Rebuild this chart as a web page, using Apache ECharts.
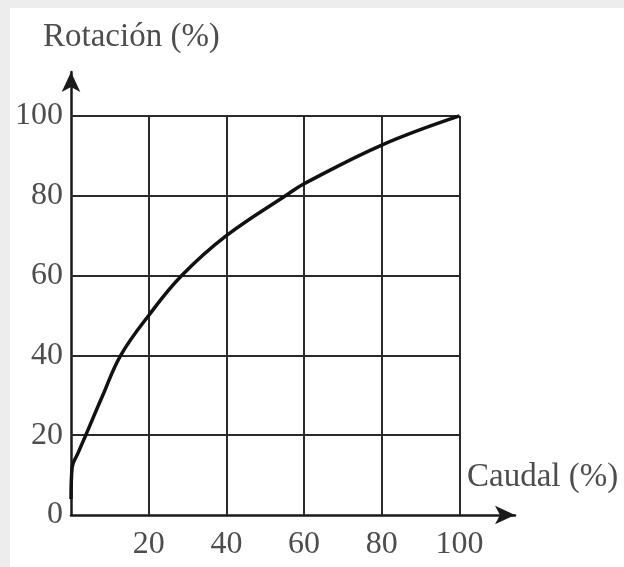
<!DOCTYPE html>
<html>
<head>
<meta charset="utf-8">
<script src="https://cdn.jsdelivr.net/npm/echarts@6/dist/echarts.min.js"></script>
<style>
html,body{margin:0;padding:0;background:#ededed;}
#chart{width:624px;height:567px;}
</style>
</head>
<body>
<div id="chart"></div>
<script>
// Data
const caudal   = [0, 0.3, 1.8, 3.8, 8.1, 12.8, 20, 28.5, 40, 56, 60, 80, 100];
const rotacion = [4, 12, 15.5, 20, 29.8, 40, 50, 60, 70, 80.5, 83, 92.7, 100];
const gridTicks = [20, 40, 60, 80, 100];
const xName = 'Caudal (%)';
const yName = 'Rotación (%)';

const font = '"Liberation Serif", "DejaVu Serif", serif';
const txtColor = '#4d4d4d';
const chart = echarts.init(document.getElementById('chart'));

const gridLines = [];
gridTicks.forEach(v => {
  gridLines.push([{coord: [v, 0]}, {coord: [v, 100]}]);
  gridLines.push([{coord: [0, v]}, {coord: [100, v]}]);
});

chart.setOption({
  backgroundColor: '#ededed',
  animation: false,
  graphic: [{
    type: 'rect', z: -10, silent: true,
    shape: {x: 10, y: 8, width: 620, height: 570},
    style: {fill: '#ffffff'}
  }],
  title: [
    {text: yName, left: 38, top: 16,
     textStyle: {fontFamily: font, fontSize: 33, fontWeight: 'normal', color: txtColor}},
    {text: xName, left: 462, top: 456,
     textStyle: {fontFamily: font, fontSize: 33, fontWeight: 'normal', color: txtColor}}
  ],
  grid: {left: 71, right: 109, top: 72, bottom: 52, containLabel: false},
  xAxis: {
    type: 'value', min: 0, max: 114.3, interval: 20,
    axisLine: {show: true, onZero: false, symbol: ['none', 'arrow'], symbolSize: [14, 20],
      lineStyle: {color: '#1a1a1a', width: 2.5}},
    axisTick: {show: false},
    splitLine: {show: false},
    axisLabel: {
      margin: 14, fontFamily: font, fontSize: 32, color: txtColor,
      formatter: v => (v > 0 && v <= 100 && v % 20 === 0) ? String(v) : ''
    }
  },
  yAxis: {
    type: 'value', min: 0, max: 111, interval: 20,
    axisLine: {show: true, onZero: false, symbol: ['none', 'arrow'], symbolSize: [14, 20],
      lineStyle: {color: '#1a1a1a', width: 2.5}},
    axisTick: {show: false},
    splitLine: {show: false},
    axisLabel: {
      margin: 8, fontFamily: font, fontSize: 32, color: txtColor,
      formatter: v => (v <= 100 && v % 20 === 0) ? String(v) : ''
    }
  },
  series: [
    {
      type: 'line', data: [], z: 1,
      markLine: {
        silent: true, symbol: ['none', 'none'], label: {show: false},
        lineStyle: {color: '#2a2a2a', width: 2, type: 'solid'},
        data: gridLines
      }
    },
    {
      type: 'line', z: 5,
      data: caudal.map((x, i) => [x, rotacion[i]]),
      smooth: 0.4,
      showSymbol: false,
      lineStyle: {color: '#111111', width: 3.5}
    }
  ]
});
</script>
</body>
</html>
